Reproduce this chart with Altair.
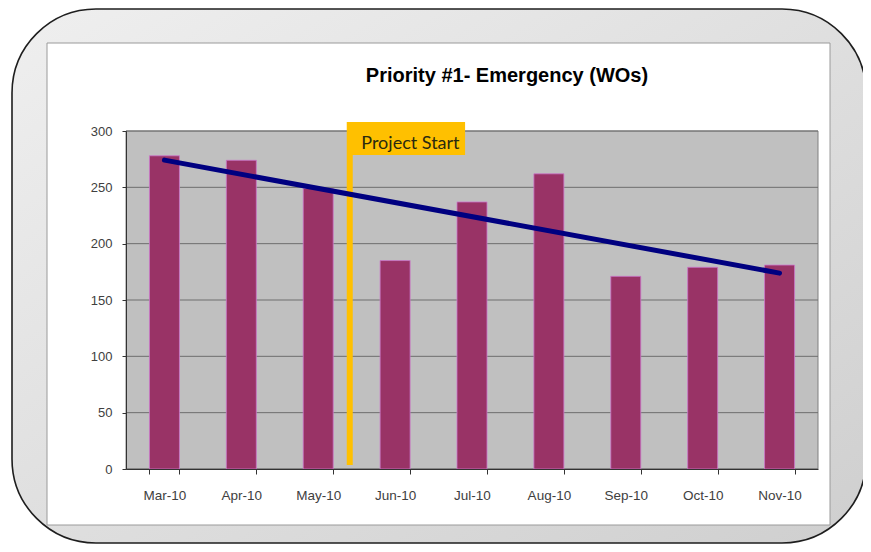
import altair as alt
import pandas as pd

# ---- data ----
months = ["Mar-10", "Apr-10", "May-10", "Jun-10", "Jul-10", "Aug-10", "Sep-10", "Oct-10", "Nov-10"]
wos = [278, 274, 249, 185, 237, 262, 171, 179, 181]
y_ticks = [0, 50, 100, 150, 200, 250, 300]
title_text = "Priority #1- Emergency (WOs)"
annotation_text = "Project Start"
# annotation positions in "month slot" units (0 = left edge, 9 = right edge) and in WOs
project_start_x = [2.91]
project_start_y = [3.5, 308]
box_x = [2.90, 4.41]
box_y = [278.6, 308]
label_xy = [3.06, 284.3]
title_xy = [4.955, 343.2]

W, H = 692, 338

df = pd.DataFrame({"month": months, "wos": wos, "pos": [i + 0.5 for i in range(len(months))]})
dummy = pd.DataFrame({"a": [0]})

yscale = alt.Scale(domain=[0, 300], nice=False, zero=True)
qscale = alt.Scale(domain=[0, len(months)], nice=False, zero=False)

yaxis = alt.Axis(title=None, values=y_ticks, grid=False, domainColor="#333333", tickColor="#333333",
                 tickSize=4, labelFontSize=13, labelFont="Liberation Sans", labelColor="#404040",
                 labelPadding=10, zindex=1)

frame_fill = alt.Gradient(
    gradient="linear",
    stops=[alt.GradientStop(color="#EFEFEF", offset=0), alt.GradientStop(color="#CFCFCF", offset=1)],
    x1=0, y1=0, x2=1, y2=1,
)

frame = alt.Chart(dummy).mark_rect(cornerRadius=84, fill=frame_fill, stroke="#1E1E1E", strokeWidth=1.6).encode(
    x=alt.value(-114), x2=alt.value(740), y=alt.value(-122), y2=alt.value(412)
)
panel = alt.Chart(dummy).mark_rect(fill="white", stroke="#9A9A9A", strokeWidth=1).encode(
    x=alt.value(-79), x2=alt.value(704), y=alt.value(-88), y2=alt.value(394)
)
plot_bg = alt.Chart(dummy).mark_rect(fill="#C0C0C0", stroke="#808080", strokeWidth=1).encode(
    x=alt.value(0), x2=alt.value(W), y=alt.value(0), y2=alt.value(H)
)

grid = alt.Chart(pd.DataFrame({"v": y_ticks})).mark_rule(color="#6E6E6E", strokeWidth=1).encode(
    y=alt.Y("v:Q", scale=yscale, axis=yaxis)
)

bars = alt.Chart(df).mark_bar(color="#993366", stroke="#CC77CC", strokeWidth=0.8).encode(
    x=alt.X(
        "month:N", sort=months,
        scale=alt.Scale(paddingInner=0.61, paddingOuter=0.305),
        axis=alt.Axis(title=None, labelAngle=0, tickBand="extent", domainColor="#333333",
                      tickColor="#333333", tickSize=5, labelFontSize=13.5, labelFont="Liberation Sans",
                      labelColor="#404040", labelPadding=14, zindex=1),
    ),
    y=alt.Y("wos:Q", scale=yscale, axis=yaxis),
)

start_rule = alt.Chart(pd.DataFrame({"x": project_start_x, "y1": [project_start_y[0]], "y2": [project_start_y[1]]})).mark_rule(
    color="#FFC000", strokeWidth=6
).encode(
    x=alt.X("x:Q", scale=qscale, axis=None),
    y=alt.Y("y1:Q", scale=yscale, axis=yaxis),
    y2="y2:Q",
)

box = alt.Chart(pd.DataFrame({"x1": [box_x[0]], "x2": [box_x[1]], "y1": [box_y[0]], "y2": [box_y[1]]})).mark_rect(
    color="#FFC000"
).encode(
    x=alt.X("x1:Q", scale=qscale, axis=None), x2="x2:Q",
    y=alt.Y("y1:Q", scale=yscale, axis=yaxis), y2="y2:Q",
)

label = alt.Chart(pd.DataFrame({"x": [label_xy[0]], "y": [label_xy[1]], "t": [annotation_text]})).mark_text(
    align="left", baseline="alphabetic", font="Lato", fontSize=18, color="#2A2A10"
).encode(
    x=alt.X("x:Q", scale=qscale, axis=None),
    y=alt.Y("y:Q", scale=yscale, axis=yaxis),
    text="t:N",
)

title = alt.Chart(pd.DataFrame({"x": [title_xy[0]], "y": [title_xy[1]], "t": [title_text]})).mark_text(
    align="center", baseline="alphabetic", font="Liberation Sans", fontSize=20, fontWeight="bold", color="#000000"
).encode(
    x=alt.X("x:Q", scale=qscale, axis=None),
    y=alt.Y("y:Q", scale=yscale, axis=yaxis),
    text="t:N",
)

trend = alt.Chart(df).transform_regression("pos", "wos").mark_line(
    color="#000080", strokeWidth=5, strokeCap="round"
).encode(
    x=alt.X("pos:Q", scale=qscale, axis=None),
    y=alt.Y("wos:Q", scale=yscale, axis=yaxis),
)

chart = alt.layer(
    frame, panel, plot_bg, grid, bars, start_rule, box, label, trend, title
).resolve_scale(x="independent").properties(
    width=W, height=H,
    autosize=alt.AutoSizeParams(type="none"),
    padding={"left": 118, "top": 123, "right": 45, "bottom": 75},
    background="white",
).configure_view(stroke=None)

chart.save("out.html", embed_options={"renderer": "svg", "actions": False})
